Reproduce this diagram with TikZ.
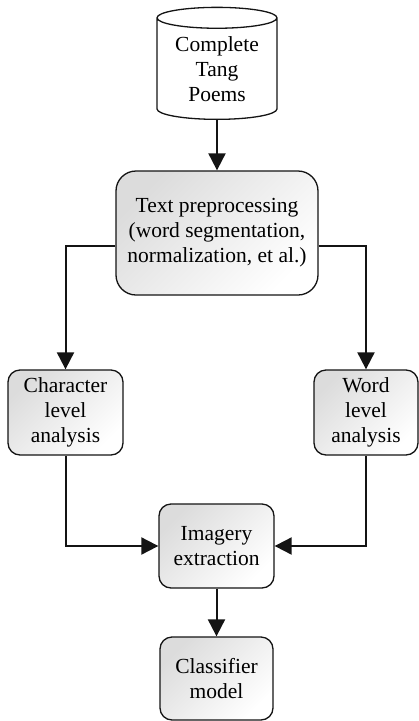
\documentclass[tikz,border=0pt]{standalone}
\usepackage{fontspec}
\setmainfont{Liberation Serif}
\usepackage{xcolor}
\definecolor{flowblack}{RGB}{20,20,20}
\definecolor{shadegray}{RGB}{220,220,220}
\usepackage{tikz}
\usetikzlibrary{arrows.meta,shapes.geometric}
\tikzset{
  block/.style ={rectangle,rounded corners=12pt,draw=flowblack,line width=1.3pt,
                 top color=shadegray,bottom color=white,shading angle=45,
                 align=center,font=\fontsize{21.5}{25}\selectfont},
  store/.style ={cylinder,shape border rotate=90,aspect=0.25,draw=flowblack,line width=1.3pt,
                 fill=white,align=center,inner sep=0pt,font=\fontsize{21.5}{25}\selectfont},
  flow/.style  ={-{Triangle[length=17pt,width=17pt]},line width=2pt,draw=flowblack},
}
\begin{document}
\begin{tikzpicture}[x=1pt,y=1pt]
  \useasboundingbox (0,0) rectangle (419,-721);
  \node[store,minimum width=120pt,minimum height=112pt,anchor=south] (poems) at (217,-120) {Complete\\Tang\\Poems};
  \node[block,rounded corners=20pt,minimum width=202pt,minimum height=124pt] (prep) at (217,-233)
    {Text preprocessing\\(word segmentation,\\normalization, et al.)};
  \node[block,minimum width=115pt,minimum height=85pt] (char) at (65.5,-412.5) {Character\\level\\analysis};
  \node[block,minimum width=104pt,minimum height=85pt] (word) at (366,-412.5) {Word\\level\\analysis};
  \node[block,minimum width=115pt,minimum height=84pt] (img) at (216.5,-546) {Imagery\\extraction};
  \node[block,minimum width=113pt,minimum height=83pt] (cls) at (216.5,-678.5) {Classifier\\model};
  \draw[flow] (poems.south) -- (prep.north);
  \draw[flow] ([yshift=-13pt]prep.west) -| (char.north);
  \draw[flow] ([yshift=-13pt]prep.east) -| (word.north);
  \draw[flow] (char.south) |- (img.west);
  \draw[flow] (word.south) |- (img.east);
  \draw[flow] (img.south) -- (cls.north);
\end{tikzpicture}
\end{document}
